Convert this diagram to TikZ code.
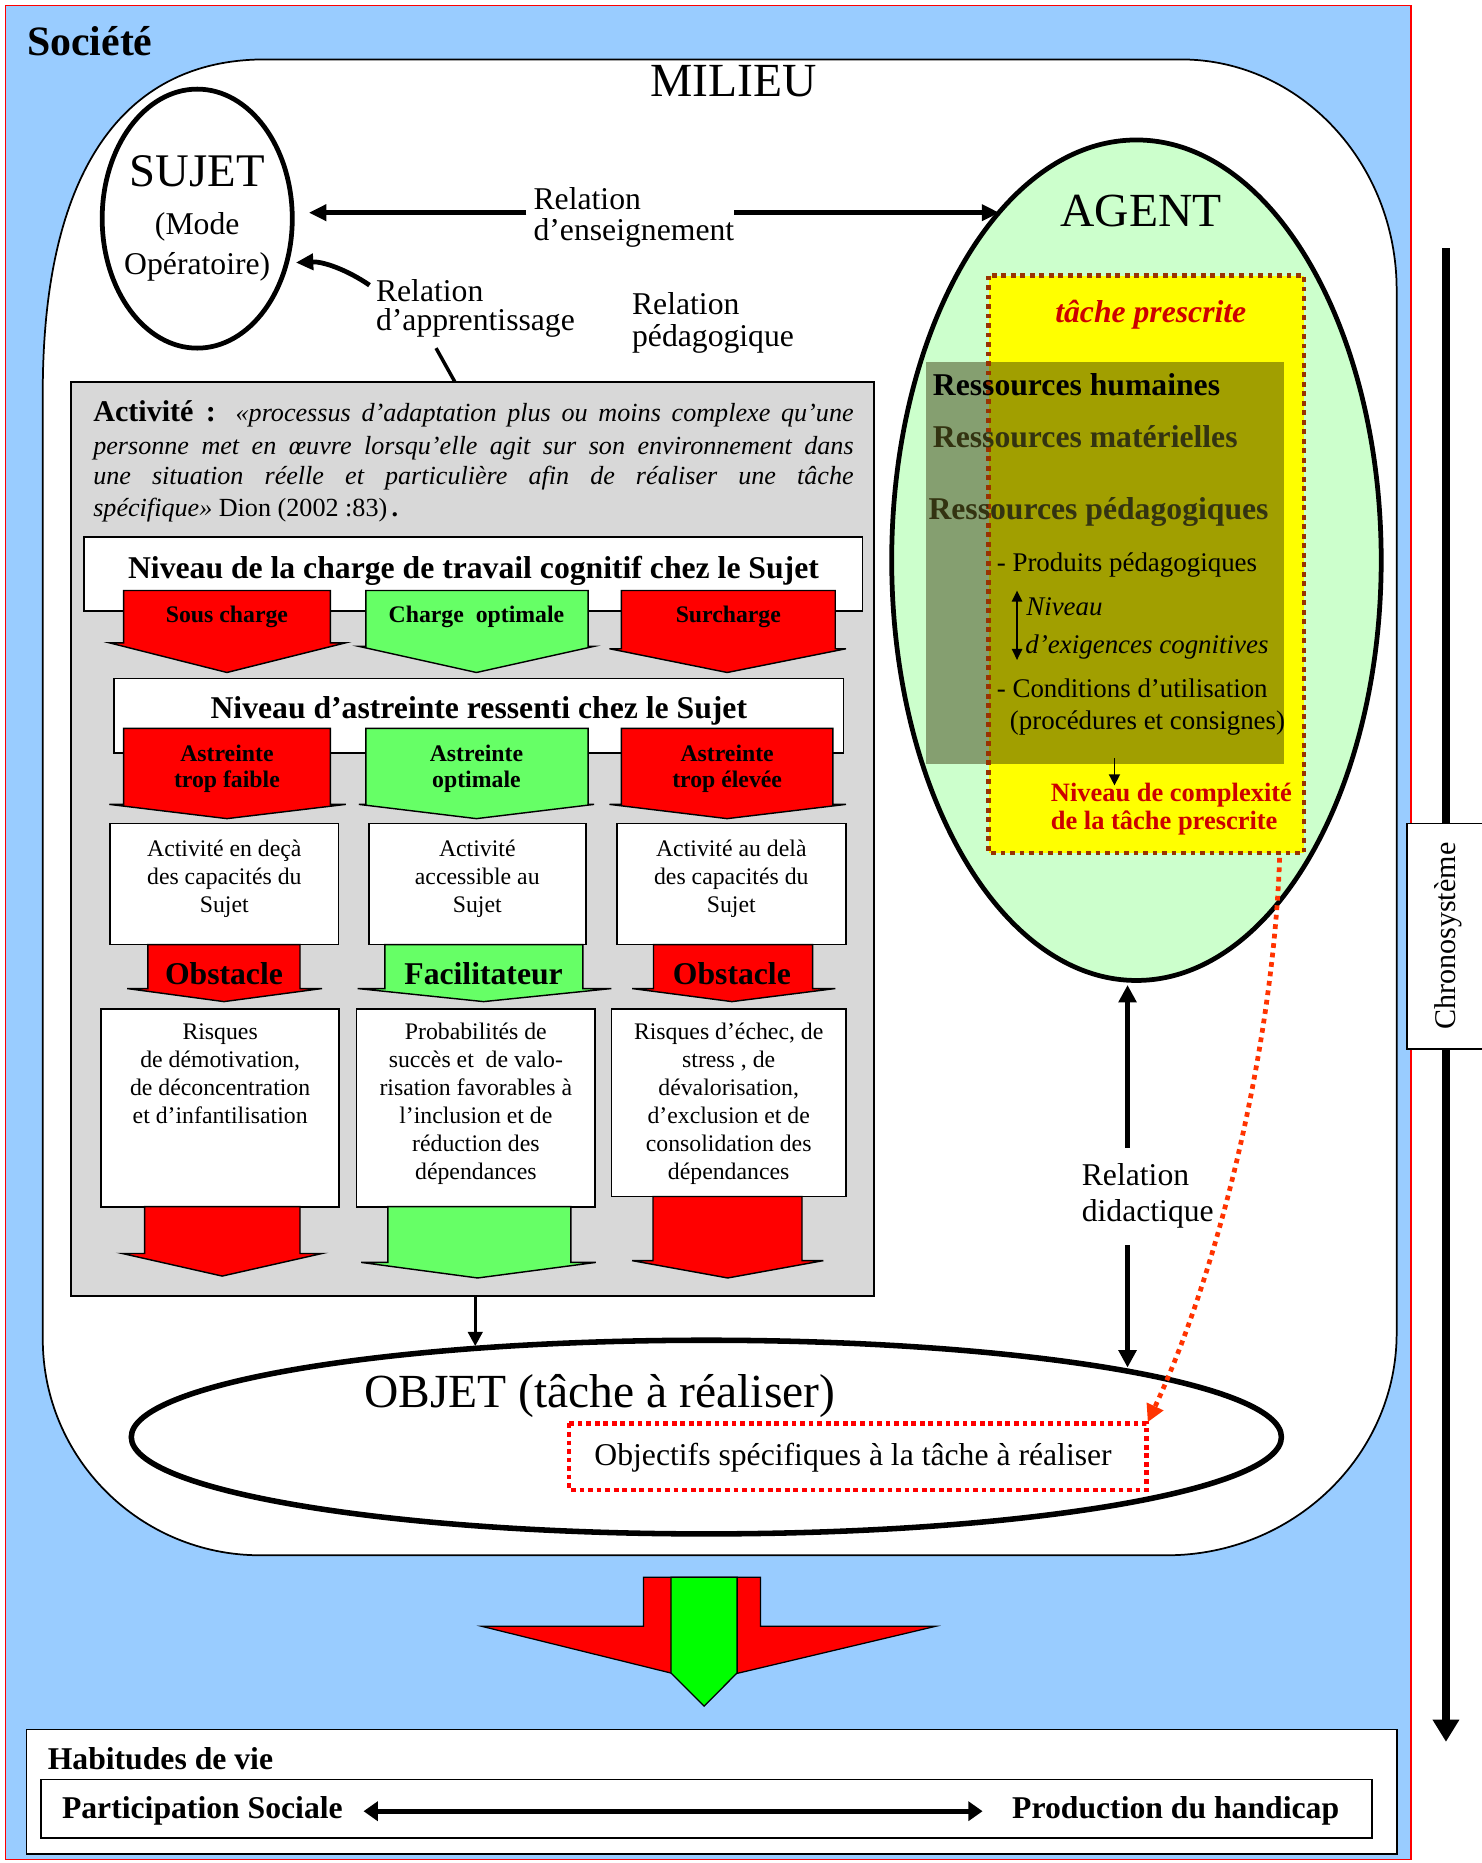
\documentclass[tikz,border=0pt]{standalone}
\usepackage{fontspec}
\setmainfont{Liberation Serif}
\usetikzlibrary{arrows.meta}

\definecolor{societyblue}{RGB}{153,204,255}
\definecolor{chevred}{RGB}{255,0,0}
\definecolor{chevgreen}{RGB}{102,255,102}
\definecolor{activgray}{RGB}{216,216,216}
\definecolor{agentgreen}{RGB}{204,255,204}
\definecolor{taskyellow}{RGB}{255,255,0}
\definecolor{taskbrown}{RGB}{153,51,0}
\definecolor{textred}{RGB}{204,0,0}
\definecolor{dotred}{RGB}{255,51,0}
\definecolor{ressdark}{RGB}{51,51,17}
\definecolor{ressoverlay}{RGB}{48,44,0}
\definecolor{biggreen}{RGB}{0,255,0}

\tikzset{every picture/.style={line width=0.75pt}}
\tikzset{
	relation/.style={line width=3pt, -{Triangle[length=11pt,width=10pt]}},
	chevron red/.style={fill=chevred, draw=black, line width=0.9pt},
	chevron green/.style={fill=chevgreen, draw=black, line width=0.9pt},
	white box/.style={fill=white, draw=black, line width=1.1pt},
	box text/.style={align=center, inner sep=0, font=\fontsize{15}{17.6}\selectfont},
	chev label/.style={align=center, inner sep=0, font=\fontsize{15}{16.5}\selectfont\bfseries},
	big label/.style={inner sep=0, font=\fontsize{20}{24}\selectfont\bfseries},
	rel text/.style={align=left, inner sep=0, font=\fontsize{20}{20}\selectfont},
	agent text/.style={anchor=base west, inner sep=0, font=\fontsize{17}{20}\selectfont},
	ress text/.style={anchor=base west, inner sep=0, font=\fontsize{20}{24}\selectfont\bfseries},
	activ line/.style={anchor=base west, inner sep=0, font=\fontsize{16.5}{20}\selectfont}}

\begin{document}
\begin{tikzpicture}[x=0.75pt,y=0.75pt,yscale=-1,xscale=1]
	\useasboundingbox (0,0) rectangle (1247,1568);
	\fill[white] (0,0) rectangle (1247,1568);

	%Shape: Rectangle (Societe)
	\draw[draw=red, fill=societyblue, line width=1pt] (4.5,4.5) rectangle (1187.5,1565);
	% Text Node
	\node[anchor=base west, inner sep=0, font=\fontsize{26.4}{30}\selectfont\bfseries] (societe) at (22.3,46.3) {Société};

	%Shape: Milieu
	\draw[fill=white, line width=1.1pt] (36,330) .. controls (36,150) and (100,50) .. (223,50) -- (994,50) .. controls (1094,50) and (1175.5,137) .. (1175.5,244) -- (1175.5,1122) .. controls (1175.5,1225) and (1088.6,1309) .. (982,1309) -- (219,1309) .. controls (118,1309) and (36,1227.5) .. (36,1127) -- cycle;
	% Text Node
	\node[anchor=base west, inner sep=0, font=\fontsize{30}{34}\selectfont] (milieu) at (547,81.4) {MILIEU};

	%Shape: Ellipse (Sujet)
	\draw[line width=3pt, fill=white] (166,184) ellipse [x radius=80, y radius=109];
	% Text Node
	\node[anchor=base, inner sep=0, font=\fontsize{29.5}{34}\selectfont] (sujet) at (166,157) {SUJET};
	% Text Node
	\node[anchor=base, inner sep=0, align=center, font=\fontsize{20}{25.3}\selectfont] (mode) at (166,231.4) {(Mode\\Opératoire)};

	%Straight Lines (relation d'enseignement)
	\coordinate (sujetE) at (260,179);
	\coordinate (ensL) at (443,179);
	\coordinate (ensR) at (618,179);
	\coordinate (agentW) at (841,179);
	\draw[relation] (ensL) -- (sujetE);
	\draw[relation] (ensR) -- (agentW);
	% Text Node
	\node[rel text, anchor=base west, font=\fontsize{20}{19.5}\selectfont] (relEns) at (448.6,202) {Relation\\d’enseignement};

	%Curve Lines (relation d'apprentissage)
	\coordinate (appS) at (311,240);
	\coordinate (sujetSE) at (249,221);
	\draw[relation] (appS) .. controls (292,227) and (272,220) .. (sujetSE);
	% Text Node
	\node[rel text, anchor=base west, font=\fontsize{20}{18.5}\selectfont] (relApp) at (316,278.5) {Relation\\d’apprentissage};
	\coordinate (appLine) at (367,293);
	\coordinate (activN) at (383,321.7);
	\draw[line width=2.2pt] (appLine) -- (activN);
	% Text Node
	\node[rel text, anchor=base west] (relPed) at (531.5,291.7) {Relation\\pédagogique};

	%Shape: Ellipse (Agent)
	\draw[line width=3pt, fill=agentgreen] (956.5,471.5) ellipse [x radius=206, y radius=353.7];
	%Shape: Rectangle (tache prescrite)
	\fill[taskyellow] (832,232) rectangle (1097.5,717.9);
	\fill[ressoverlay, fill opacity=0.45] (779,305) rectangle (1081,643);
	\draw[taskbrown, line width=3pt, dash pattern=on 3pt off 3pt] (832,232) rectangle (1097.5,717.9);
	% Text Node
	\node[anchor=base west, inner sep=0, font=\fontsize{30}{34}\selectfont] (agent) at (892,191) {AGENT};
	% Text Node
	\node[anchor=base west, inner sep=0, text=textred, font=\fontsize{20}{24}\selectfont\bfseries\itshape] (tache) at (887.7,271.5) {tâche prescrite};
	% Text Node
	\node[ress text] (resHum) at (784.7,332.8) {Ressources humaines};
	\node[ress text, text=ressdark] (resMat) at (784.7,376.3) {Ressources matérielles};
	\node[ress text, text=ressdark] (resPed) at (781,437) {Ressources pédagogiques};
	% Text Node
	\node[agent text] (produits) at (838.5,481) {- Produits pédagogiques};
	\node[agent text, font=\fontsize{17}{20}\selectfont\itshape] (niveau) at (863.3,518) {Niveau};
	\node[agent text, font=\fontsize{17}{20}\selectfont\itshape] (exigences) at (862.6,550) {d’exigences cognitives};
	\node[agent text] (conditions) at (838.5,587.4) {- Conditions d’utilisation};
	\node[agent text] (procedures) at (849.5,613.8) {(procédures et consignes)};
	%Straight Lines
	\coordinate (niveauT) at (856,497);
	\coordinate (niveauB) at (856,555.5);
	\draw[line width=1.2pt, {Triangle[length=7pt,width=6.5pt]}-{Triangle[length=7pt,width=6.5pt]}] (niveauT) -- (niveauB);
	\coordinate (ressS) at (938,638);
	\coordinate (cplxN) at (938,661);
	\draw[line width=1pt, -{Triangle[length=7pt,width=7pt]}] (ressS) -- (cplxN);
	% Text Node
	\node[anchor=base west, inner sep=0, align=left, text=textred, font=\fontsize{16.7}{18}\selectfont\bfseries] (complexite) at (884,698.5) {Niveau de complexité\\de la tâche prescrite};

	%Shape: Rectangle (Activite)
	\draw[fill=activgray, line width=1pt] (60,321.7) rectangle (735.6,1091);
	% Text Node
	\node[activ line] (activ1) at (78,354.8) {\makebox[480pt][s]{\fontsize{19}{20}\selectfont\bfseries Activité : \fontsize{16.5}{20}\selectfont\mdseries\itshape «processus d’adaptation plus ou moins complexe qu’une}};
	\node[activ line] (activ2) at (78,382.8) {\makebox[480pt][s]{\itshape personne met en œuvre lorsqu’elle agit sur son environnement dans}};
	\node[activ line] (activ3) at (78,408) {\makebox[480pt][s]{\itshape une situation réelle et particulière afin de réaliser une tâche}};
	\node[activ line] (activ4) at (78,434.7) {{\itshape spécifique»} Dion (2002 :83)\,\textbf{.}};

	%Shape: Rectangle (charge)
	\draw[white box] (71,452) rectangle (726,514);
	\node[big label, anchor=base] (charge) at (398.5,486.5) {Niveau de la charge de travail cognitif chez le Sujet};
	%Shape: Down Arrow
	\draw[chevron red] (104,497) -- (278,497) -- (278,541) -- (291,541) -- (191,566) -- (92,541) -- (104,541) -- cycle;
	\draw[chevron green] (308,497) -- (495,497) -- (495,544) -- (500,544) -- (401,566) -- (302,544) -- (308,544) -- cycle;
	\draw[chevron red] (523,497) -- (703,497) -- (703,546) -- (712,546) -- (612,566) -- (513,546) -- (523,546) -- cycle;
	\node[chev label, anchor=base] (sous) at (191,524) {Sous charge};
	\node[chev label, anchor=base] (optimale) at (401,524) {Charge~~optimale};
	\node[chev label, anchor=base] (surcharge) at (613,524) {Surcharge};

	%Shape: Rectangle (astreinte)
	\draw[white box] (96,571) rectangle (710,634);
	\node[big label, anchor=base] (astreinte) at (403,605) {Niveau d’astreinte ressenti chez le Sujet};
	%Shape: Down Arrow
	\draw[chevron red] (104,613) -- (278,613) -- (278,677) -- (291,677) -- (191,689) -- (92,677) -- (104,677) -- cycle;
	\draw[chevron green] (308,613) -- (495,613) -- (495,677) -- (500,677) -- (401,689) -- (302,677) -- (308,677) -- cycle;
	\draw[chevron red] (523,613) -- (701,613) -- (701,677) -- (712,677) -- (612,689) -- (513,677) -- (523,677) -- cycle;
	\node[chev label, anchor=base] (faible) at (191,663) {Astreinte\\trop faible};
	\node[chev label, anchor=base] (astOpt) at (401,663) {Astreinte\\optimale};
	\node[chev label, anchor=base] (elevee) at (612,663) {Astreinte\\trop élevée};

	%Shape: Rectangle (activite)
	\draw[white box] (92.5,693) rectangle (285,795);
	\draw[white box] (310.5,693) rectangle (493,795);
	\draw[white box] (519,693) rectangle (712,795);
	\node[box text, anchor=base] (deca) at (188.8,767.7) {Activité en deçà\\des capacités du\\Sujet};
	\node[box text, anchor=base] (accessible) at (401.7,767.7) {Activité\\accessible au\\Sujet};
	\node[box text, anchor=base] (dela) at (615.5,767.7) {Activité au delà\\des capacités du\\Sujet};
	%Shape: Down Arrow
	\draw[chevron red] (124.5,795) -- (252.5,795) -- (252.5,832) -- (271,832) -- (188.5,843) -- (107,832) -- (124.5,832) -- cycle;
	\draw[chevron green] (324,795) -- (490.5,795) -- (490.5,832) -- (514.6,832) -- (407,843) -- (301,832) -- (324,832) -- cycle;
	\draw[chevron red] (550,795) -- (684,795) -- (684,832) -- (703,832) -- (616,843) -- (532,832) -- (550,832) -- cycle;
	\node[big label, anchor=base] (obstacleA) at (188.5,828.8) {Obstacle};
	\node[big label, anchor=base] (facilitateur) at (407,828.8) {Facilitateur};
	\node[big label, anchor=base] (obstacleB) at (616,828.8) {Obstacle};

	%Shape: Rectangle (risques)
	\draw[white box] (85,849) rectangle (285.6,1015.6);
	\draw[white box] (300,849) rectangle (501,1015.6);
	\draw[white box] (514.6,849) rectangle (712,1007);
	\node[box text, anchor=base] (risquesA) at (185.3,945.4) {Risques\\de démotivation,\\de déconcentration\\et d’infantilisation};
	\node[box text, anchor=base] (probabilites) at (400.5,992.3) {Probabilités de\\succès et~~de valo-\\risation favorables à\\l’inclusion et de\\réduction des\\dépendances};
	\node[box text, anchor=base] (risquesB) at (613.3,992.3) {Risques d’échec, de\\stress , de\\dévalorisation,\\d’exclusion et de\\consolidation des\\dépendances};
	%Shape: Down Arrow
	\draw[chevron red] (121.7,1015.6) -- (252.5,1015.6) -- (252.5,1055) -- (271,1055) -- (187,1074) -- (103,1055) -- (121.7,1055) -- cycle;
	\draw[chevron green] (326.5,1015.6) -- (480.5,1015.6) -- (480.5,1062.5) -- (501.5,1062.5) -- (402,1075.6) -- (304,1062.5) -- (326.5,1062.5) -- cycle;
	\draw[chevron red] (549.6,1007) -- (675,1007) -- (675,1061) -- (693,1061) -- (612.5,1075.6) -- (532,1061) -- (549.6,1061) -- cycle;

	%Shape: Ellipse (Objet)
	\coordinate (activS) at (400,1091);
	\coordinate (objetN) at (400,1133);
	\draw[line width=2.2pt, -{Triangle[length=9pt,width=9pt]}] (activS) -- (objetN);
	\draw[line width=3.5pt, fill=white] (594.5,1209.5) ellipse [x radius=484, y radius=81.5];
	% Text Node
	\node[anchor=base west, inner sep=0, font=\fontsize{30}{34}\selectfont] (objet) at (306,1185) {OBJET (tâche à réaliser)};
	%Shape: Rectangle (objectifs)
	\draw[red, line width=3pt, dash pattern=on 3pt off 2.4pt] (479,1198) rectangle (965,1254);
	\node[anchor=base, inner sep=0, font=\fontsize{20}{24}\selectfont] (objectifs) at (718,1233.5) {Objectifs spécifiques à la tâche à réaliser};

	%Straight Lines (relation didactique)
	\coordinate (agentS) at (949,829);
	\coordinate (didTop) at (949,966);
	\coordinate (didBot) at (949,1048);
	\coordinate (objetNE) at (949,1151);
	\draw[line width=3.6pt, -{Triangle[length=11pt,width=11pt]}] (didTop) -- (agentS);
	\draw[line width=3.6pt, -{Triangle[length=11pt,width=11pt]}] (didBot) -- (objetNE);
	% Text Node
	\node[rel text, anchor=base west, font=\fontsize{20}{22.5}\selectfont] (relDid) at (910,1028) {Relation\\didactique};

	%Curve Lines (dotted)
	\coordinate (cplxS) at (1077,722);
	\coordinate (objectifsNE) at (966,1197);
	\draw[dotred, line width=3pt, dash pattern=on 3pt off 3pt, -{Triangle[length=11pt,width=11pt]}] (cplxS) .. controls (1072,870) and (1030,1060) .. (objectifsNE);

	%Shape: Big Arrow
	\draw[fill=chevred, line width=0.8pt] (541.6,1327.4) -- (640,1327.4) -- (640,1368.8) -- (787.3,1368.8) -- (592.6,1415) -- (405.6,1368.8) -- (541.6,1368.8) -- cycle;
	\draw[fill=biggreen, line width=0.8pt] (564.7,1327.4) -- (620.4,1327.4) -- (620.4,1408) -- (592.6,1436) -- (564.7,1408) -- cycle;

	%Shape: Rectangle (habitudes)
	\draw[white box] (22.3,1455.7) rectangle (1175.5,1560.6);
	\draw[white box] (34.2,1497.7) rectangle (1154.6,1547);
	\node[big label, anchor=base west] (habitudes) at (39.7,1489.5) {Habitudes de vie};
	\node[big label, anchor=base west] (participation) at (51.7,1530.5) {Participation Sociale};
	\node[big label, anchor=base east] (production) at (1127.6,1530.5) {Production du handicap};
	\coordinate (partE) at (306,1524.4);
	\coordinate (prodW) at (827,1524.4);
	\draw[line width=3pt, {Triangle[length=9pt,width=12pt]}-{Triangle[length=9pt,width=12pt]}] (partE) -- (prodW);

	%Straight Lines (chronosysteme)
	\coordinate (chronoTop) at (1217,209);
	\coordinate (chronoBot) at (1217,1466);
	\draw[line width=5.2pt, -{Triangle[length=14pt,width=16pt]}] (chronoTop) -- (chronoBot);
	\draw[white box] (1184,693) rectangle (1252,883);
	\node[rotate=90, inner sep=0, font=\fontsize{19}{22}\selectfont] (chrono) at (1219,788) {Chronosystème};

\end{tikzpicture}
\end{document}
